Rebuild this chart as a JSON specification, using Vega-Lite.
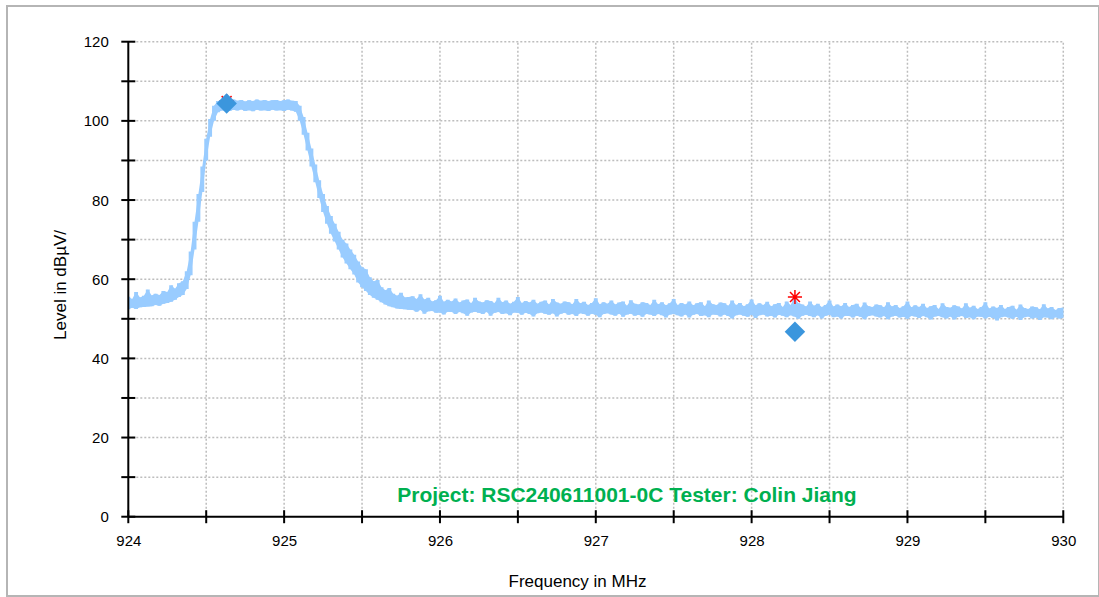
{
  "$schema": "https://vega.github.io/schema/vega-lite/v6.json",
  "width": 1092,
  "height": 590,
  "autosize": {"type": "none"},
  "padding": {"left": 7, "top": 6, "right": 0, "bottom": 1},
  "background": "white",
  "config": {
    "view": {"stroke": "#B5B5B5", "strokeWidth": 2},
    "font": "Liberation Sans"
  },
  "datasets": {
    "trace": [
      {"f":924.000,"lo":52.4,"hi":55.6},{"f":924.025,"lo":52.8,"hi":55.0},{"f":924.050,"lo":52.5,"hi":56.8},{"f":924.075,"lo":52.9,"hi":55.4},
      {"f":924.100,"lo":53.0,"hi":55.8},{"f":924.125,"lo":53.1,"hi":57.4},{"f":924.150,"lo":53.2,"hi":55.9},{"f":924.175,"lo":53.5,"hi":56.3},
      {"f":924.200,"lo":53.3,"hi":56.0},{"f":924.225,"lo":53.8,"hi":57.0},{"f":924.250,"lo":54.0,"hi":56.8},{"f":924.275,"lo":54.3,"hi":58.5},
      {"f":924.300,"lo":54.8,"hi":57.6},{"f":924.325,"lo":55.5,"hi":59.0},{"f":924.350,"lo":56.0,"hi":59.5},{"f":924.375,"lo":57.5,"hi":62.0},
      {"f":924.400,"lo":61.0,"hi":67.0},{"f":924.425,"lo":67.5,"hi":74.5},{"f":924.450,"lo":74.5,"hi":81.5},{"f":924.475,"lo":82.0,"hi":88.5},
      {"f":924.500,"lo":90.0,"hi":95.5},{"f":924.525,"lo":96.0,"hi":100.5},{"f":924.550,"lo":100.0,"hi":103.8},{"f":924.575,"lo":102.2,"hi":105.0},
      {"f":924.600,"lo":102.6,"hi":105.3},{"f":924.625,"lo":102.7,"hi":105.3},{"f":924.650,"lo":102.5,"hi":105.0},{"f":924.675,"lo":102.8,"hi":105.4},
      {"f":924.700,"lo":102.6,"hi":105.1},{"f":924.725,"lo":102.9,"hi":105.3},{"f":924.750,"lo":102.5,"hi":104.9},{"f":924.775,"lo":102.7,"hi":105.2},
      {"f":924.800,"lo":102.4,"hi":105.0},{"f":924.825,"lo":102.8,"hi":105.4},{"f":924.850,"lo":102.6,"hi":105.1},{"f":924.875,"lo":102.7,"hi":105.3},
      {"f":924.900,"lo":102.5,"hi":105.0},{"f":924.925,"lo":102.8,"hi":105.2},{"f":924.950,"lo":102.6,"hi":105.3},{"f":924.975,"lo":102.7,"hi":105.0},
      {"f":925.000,"lo":102.5,"hi":105.2},{"f":925.025,"lo":102.8,"hi":105.4},{"f":925.050,"lo":102.6,"hi":105.1},{"f":925.075,"lo":102.3,"hi":105.0},
      {"f":925.100,"lo":100.0,"hi":103.8},{"f":925.125,"lo":96.5,"hi":101.0},{"f":925.150,"lo":92.5,"hi":97.0},{"f":925.175,"lo":88.5,"hi":93.0},
      {"f":925.200,"lo":84.5,"hi":89.0},{"f":925.225,"lo":80.5,"hi":85.0},{"f":925.250,"lo":77.0,"hi":81.5},{"f":925.275,"lo":74.0,"hi":78.5},
      {"f":925.300,"lo":71.5,"hi":76.0},{"f":925.325,"lo":69.5,"hi":74.0},{"f":925.350,"lo":67.5,"hi":72.0},{"f":925.375,"lo":65.5,"hi":70.0},
      {"f":925.400,"lo":64.0,"hi":69.0},{"f":925.425,"lo":62.5,"hi":67.5},{"f":925.450,"lo":61.2,"hi":66.2},{"f":925.475,"lo":59.2,"hi":64.5},
      {"f":925.500,"lo":58.0,"hi":63.0},{"f":925.525,"lo":57.0,"hi":62.5},{"f":925.550,"lo":56.0,"hi":60.5},{"f":925.575,"lo":55.3,"hi":59.5},
      {"f":925.600,"lo":54.8,"hi":59.8},{"f":925.625,"lo":54.2,"hi":58.0},{"f":925.650,"lo":53.6,"hi":57.2},{"f":925.675,"lo":53.2,"hi":57.8},
      {"f":925.700,"lo":52.9,"hi":56.3},{"f":925.725,"lo":52.6,"hi":55.8},{"f":925.750,"lo":52.5,"hi":56.6},{"f":925.775,"lo":52.4,"hi":55.4},
      {"f":925.800,"lo":52.3,"hi":55.5},{"f":925.825,"lo":52.2,"hi":55.7},{"f":925.850,"lo":51.8,"hi":55.0},{"f":925.875,"lo":52.2,"hi":56.2},
      {"f":925.900,"lo":51.3,"hi":54.9},{"f":925.925,"lo":51.9,"hi":55.3},{"f":925.950,"lo":52.0,"hi":54.4},{"f":925.975,"lo":51.5,"hi":54.7},
      {"f":926.000,"lo":51.6,"hi":55.8},{"f":926.025,"lo":51.1,"hi":54.3},{"f":926.050,"lo":51.8,"hi":54.8},{"f":926.075,"lo":51.7,"hi":54.4},
      {"f":926.100,"lo":51.2,"hi":55.1},{"f":926.125,"lo":51.7,"hi":54.1},{"f":926.150,"lo":51.4,"hi":54.6},{"f":926.175,"lo":50.8,"hi":54.9},
      {"f":926.200,"lo":51.6,"hi":53.9},{"f":926.225,"lo":51.8,"hi":55.3},{"f":926.250,"lo":51.5,"hi":54.4},{"f":926.275,"lo":51.2,"hi":54.1},
      {"f":926.300,"lo":51.7,"hi":54.7},{"f":926.325,"lo":50.8,"hi":54.5},{"f":926.350,"lo":51.5,"hi":54.0},{"f":926.375,"lo":51.7,"hi":55.3},
      {"f":926.400,"lo":51.2,"hi":54.2},{"f":926.425,"lo":51.4,"hi":54.6},{"f":926.450,"lo":50.9,"hi":53.8},{"f":926.475,"lo":51.6,"hi":54.3},
      {"f":926.500,"lo":51.5,"hi":55.5},{"f":926.525,"lo":51.0,"hi":54.0},{"f":926.550,"lo":51.5,"hi":54.5},{"f":926.575,"lo":51.2,"hi":54.1},
      {"f":926.600,"lo":50.6,"hi":54.8},{"f":926.625,"lo":51.4,"hi":53.8},{"f":926.650,"lo":51.6,"hi":54.3},{"f":926.675,"lo":51.3,"hi":54.6},
      {"f":926.700,"lo":51.0,"hi":53.6},{"f":926.725,"lo":51.4,"hi":55.0},{"f":926.750,"lo":50.6,"hi":54.1},{"f":926.775,"lo":51.3,"hi":53.8},
      {"f":926.800,"lo":51.5,"hi":54.4},{"f":926.825,"lo":51.0,"hi":54.2},{"f":926.850,"lo":51.2,"hi":53.7},{"f":926.875,"lo":50.7,"hi":55.0},
      {"f":926.900,"lo":51.4,"hi":53.9},{"f":926.925,"lo":51.2,"hi":54.3},{"f":926.950,"lo":50.8,"hi":53.5},{"f":926.975,"lo":51.3,"hi":54.0},
      {"f":927.000,"lo":51.0,"hi":55.2},{"f":927.025,"lo":50.4,"hi":53.7},{"f":927.050,"lo":51.2,"hi":54.2},{"f":927.075,"lo":51.4,"hi":53.8},
      {"f":927.100,"lo":51.1,"hi":54.6},{"f":927.125,"lo":50.8,"hi":53.6},{"f":927.150,"lo":51.3,"hi":54.1},{"f":927.175,"lo":50.5,"hi":54.4},
      {"f":927.200,"lo":51.1,"hi":53.3},{"f":927.225,"lo":51.3,"hi":54.7},{"f":927.250,"lo":50.8,"hi":53.8},{"f":927.275,"lo":51.0,"hi":53.6},
      {"f":927.300,"lo":50.5,"hi":54.2},{"f":927.325,"lo":51.2,"hi":54.0},{"f":927.350,"lo":51.1,"hi":53.5},{"f":927.375,"lo":50.7,"hi":54.8},
      {"f":927.400,"lo":51.2,"hi":53.7},{"f":927.425,"lo":50.9,"hi":54.2},{"f":927.450,"lo":50.3,"hi":53.4},{"f":927.475,"lo":51.1,"hi":53.9},
      {"f":927.500,"lo":51.2,"hi":55.0},{"f":927.525,"lo":50.9,"hi":53.5},{"f":927.550,"lo":50.6,"hi":54.0},{"f":927.575,"lo":51.1,"hi":53.6},
      {"f":927.600,"lo":50.3,"hi":54.4},{"f":927.625,"lo":51.0,"hi":53.4},{"f":927.650,"lo":51.2,"hi":53.9},{"f":927.675,"lo":50.7,"hi":54.2},
      {"f":927.700,"lo":50.9,"hi":53.2},{"f":927.725,"lo":50.4,"hi":54.6},{"f":927.750,"lo":51.1,"hi":53.7},{"f":927.775,"lo":51.0,"hi":53.5},
      {"f":927.800,"lo":50.6,"hi":54.1},{"f":927.825,"lo":51.1,"hi":53.9},{"f":927.850,"lo":50.7,"hi":53.3},{"f":927.875,"lo":50.1,"hi":54.6},
      {"f":927.900,"lo":50.9,"hi":53.5},{"f":927.925,"lo":51.1,"hi":54.0},{"f":927.950,"lo":50.8,"hi":53.2},{"f":927.975,"lo":50.5,"hi":53.7},
      {"f":928.000,"lo":51.0,"hi":54.9},{"f":928.025,"lo":50.2,"hi":53.4},{"f":928.050,"lo":50.9,"hi":53.9},{"f":928.075,"lo":51.1,"hi":53.5},
      {"f":928.100,"lo":50.6,"hi":54.3},{"f":928.125,"lo":50.8,"hi":53.2},{"f":928.150,"lo":50.3,"hi":53.7},{"f":928.175,"lo":51.0,"hi":54.0},
      {"f":928.200,"lo":50.8,"hi":53.0},{"f":928.225,"lo":50.4,"hi":54.4},{"f":928.250,"lo":50.9,"hi":53.5},{"f":928.275,"lo":50.6,"hi":55.3},
      {"f":928.300,"lo":50.0,"hi":53.9},{"f":928.325,"lo":50.8,"hi":53.6},{"f":928.350,"lo":51.0,"hi":53.1},{"f":928.375,"lo":50.7,"hi":54.4},
      {"f":928.400,"lo":50.4,"hi":53.3},{"f":928.425,"lo":50.9,"hi":53.8},{"f":928.450,"lo":50.1,"hi":53.0},{"f":928.475,"lo":50.8,"hi":53.5},
      {"f":928.500,"lo":51.0,"hi":54.6},{"f":928.525,"lo":50.4,"hi":53.1},{"f":928.550,"lo":50.6,"hi":53.6},{"f":928.575,"lo":50.1,"hi":53.2},
      {"f":928.600,"lo":50.8,"hi":54.0},{"f":928.625,"lo":50.7,"hi":53.0},{"f":928.650,"lo":50.3,"hi":53.5},{"f":928.675,"lo":50.8,"hi":53.8},
      {"f":928.700,"lo":50.5,"hi":52.8},{"f":928.725,"lo":49.9,"hi":54.1},{"f":928.750,"lo":50.7,"hi":53.2},{"f":928.775,"lo":50.9,"hi":53.0},
      {"f":928.800,"lo":50.6,"hi":53.6},{"f":928.825,"lo":50.3,"hi":53.4},{"f":928.850,"lo":50.7,"hi":52.9},{"f":928.875,"lo":49.9,"hi":54.2},
      {"f":928.900,"lo":50.6,"hi":53.1},{"f":928.925,"lo":50.8,"hi":53.5},{"f":928.950,"lo":50.3,"hi":52.7},{"f":928.975,"lo":50.5,"hi":53.2},
      {"f":929.000,"lo":50.0,"hi":54.4},{"f":929.025,"lo":50.7,"hi":52.9},{"f":929.050,"lo":50.6,"hi":53.4},{"f":929.075,"lo":50.2,"hi":53.0},
      {"f":929.100,"lo":50.7,"hi":53.8},{"f":929.125,"lo":50.4,"hi":52.7},{"f":929.150,"lo":49.8,"hi":53.2},{"f":929.175,"lo":50.6,"hi":53.5},
      {"f":929.200,"lo":50.7,"hi":52.5},{"f":929.225,"lo":50.4,"hi":53.9},{"f":929.250,"lo":50.1,"hi":53.0},{"f":929.275,"lo":50.6,"hi":52.8},
      {"f":929.300,"lo":49.8,"hi":53.4},{"f":929.325,"lo":50.5,"hi":53.1},{"f":929.350,"lo":50.7,"hi":52.6},{"f":929.375,"lo":50.2,"hi":53.9},
      {"f":929.400,"lo":50.4,"hi":52.8},{"f":929.425,"lo":49.9,"hi":53.3},{"f":929.450,"lo":50.6,"hi":52.5},{"f":929.475,"lo":50.5,"hi":53.0},
      {"f":929.500,"lo":50.1,"hi":54.2},{"f":929.525,"lo":50.5,"hi":52.6},{"f":929.550,"lo":50.2,"hi":53.1},{"f":929.575,"lo":49.6,"hi":52.7},
      {"f":929.600,"lo":50.4,"hi":53.5},{"f":929.625,"lo":50.6,"hi":52.5},{"f":929.650,"lo":50.3,"hi":53.0},{"f":929.675,"lo":50.0,"hi":53.3},
      {"f":929.700,"lo":50.5,"hi":52.3},{"f":929.725,"lo":49.7,"hi":53.6},{"f":929.750,"lo":50.4,"hi":52.7},{"f":929.775,"lo":50.6,"hi":52.5},
      {"f":929.800,"lo":50.1,"hi":53.1},{"f":929.825,"lo":50.3,"hi":52.9},{"f":929.850,"lo":49.7,"hi":52.4},{"f":929.875,"lo":50.4,"hi":53.7},
      {"f":929.900,"lo":50.3,"hi":52.6},{"f":929.925,"lo":49.9,"hi":53.0},{"f":929.950,"lo":50.4,"hi":52.2},{"f":929.975,"lo":50.1,"hi":52.7},
      {"f":930.000,"lo":50.2,"hi":52.8}
    ],
    "gx": [{"f":924.5},{"f":925},{"f":925.5},{"f":926},{"f":926.5},{"f":927},{"f":927.5},{"f":928},{"f":928.5},{"f":929},{"f":929.5},{"f":930}],
    "gy": [{"v":10},{"v":20},{"v":30},{"v":40},{"v":50},{"v":60},{"v":70},{"v":80},{"v":90},{"v":100},{"v":110},{"v":120}],
    "xt": [{"f":924},{"f":924.5},{"f":925},{"f":925.5},{"f":926},{"f":926.5},{"f":927},{"f":927.5},{"f":928},{"f":928.5},{"f":929},{"f":929.5},{"f":930}],
    "yt": [{"v":0},{"v":10},{"v":20},{"v":30},{"v":40},{"v":50},{"v":60},{"v":70},{"v":80},{"v":90},{"v":100},{"v":110},{"v":120}],
    "one": [{"k":1}],
    "ast": [{"f":924.631,"v":105.0},{"f":928.278,"v":55.5}],
    "dia": [{"f":924.631,"v":104.4},{"f":928.278,"v":46.7}],
    "note": [{"f":927.2,"v":3.8,"label":"Project: RSC240611001-0C Tester: Colin Jiang"}]
  },
  "layer": [
    {
      "data": {"name": "gx"},
      "mark": {"type": "rule", "color": "#BDBDBD", "strokeDash": [2, 2], "strokeWidth": 1.5},
      "encoding": {
        "x": {"field": "f", "type": "quantitative"},
        "y": {"datum": 0, "type": "quantitative"},
        "y2": {"datum": 120}
      }
    },
    {
      "data": {"name": "gy"},
      "mark": {"type": "rule", "color": "#BDBDBD", "strokeDash": [2, 2], "strokeWidth": 1.5},
      "encoding": {
        "y": {"field": "v", "type": "quantitative"},
        "x": {"datum": 924, "type": "quantitative"},
        "x2": {"datum": 930}
      }
    },
    {
      "data": {"name": "trace"},
      "mark": {"type": "area", "color": "#99CCFF", "opacity": 1, "interpolate": "linear"},
      "encoding": {
        "x": {
          "field": "f", "type": "quantitative",
          "scale": {"domain": [923.2216, 930.2292], "nice": false, "zero": false},
          "axis": {
            "title": "Frequency in MHz", "values": [924, 925, 926, 927, 928, 929, 930], "format": "d",
            "offset": -79.3, "grid": false, "ticks": true, "tickSize": 0, "domain": false, "labels": true,
            "labelPadding": 17, "labelFontSize": 15, "labelColor": "#000000",
            "titleFontSize": 17, "titleFontWeight": "normal", "titleColor": "#000000",
            "titleX": 570, "titleY": 69.8, "titleAlign": "center", "titleBaseline": "alphabetic"
          }
        },
        "y": {
          "field": "lo", "type": "quantitative",
          "scale": {"domain": [-20.03, 129.02], "nice": false, "zero": false},
          "axis": {
            "title": "Level in dBµV/", "values": [0, 20, 40, 60, 80, 100, 120], "format": "d",
            "offset": -121.3, "grid": false, "ticks": true, "tickSize": 0, "domain": false, "labels": true,
            "labelPadding": 20, "labelFontSize": 15, "labelColor": "#000000",
            "titleFontSize": 17, "titleFontWeight": "normal", "titleColor": "#000000",
            "titleX": -68.3, "titleY": 278.5, "titleAngle": 270, "titleAlign": "center", "titleBaseline": "middle"
          }
        },
        "y2": {"field": "hi"}
      }
    },
    {
      "data": {"name": "trace"},
      "mark": {"type": "area", "color": "#99CCFF", "opacity": 1, "interpolate": "step"},
      "encoding": {
        "x": {"field": "f", "type": "quantitative"},
        "y": {"field": "lo", "type": "quantitative"},
        "y2": {"field": "hi"}
      }
    },
    {
      "data": {"name": "one"},
      "mark": {"type": "rule", "color": "#000000", "strokeWidth": 2},
      "encoding": {
        "x": {"datum": 924, "type": "quantitative"},
        "x2": {"datum": 930},
        "y": {"datum": 0, "type": "quantitative"}
      }
    },
    {
      "data": {"name": "one"},
      "mark": {"type": "rule", "color": "#000000", "strokeWidth": 2},
      "encoding": {
        "x": {"datum": 924, "type": "quantitative"},
        "y": {"datum": 0, "type": "quantitative"},
        "y2": {"datum": 120}
      }
    },
    {
      "data": {"name": "xt"},
      "mark": {"type": "tick", "orient": "vertical", "size": 13, "thickness": 2, "color": "#000000", "opacity": 1},
      "encoding": {
        "x": {"field": "f", "type": "quantitative"},
        "y": {"datum": 0, "type": "quantitative"}
      }
    },
    {
      "data": {"name": "yt"},
      "mark": {"type": "tick", "orient": "horizontal", "size": 14, "thickness": 2, "color": "#000000", "opacity": 1},
      "encoding": {
        "y": {"field": "v", "type": "quantitative"},
        "x": {"datum": 924, "type": "quantitative"}
      }
    },
    {
      "data": {"name": "ast"},
      "mark": {"type": "point", "shape": "M-1,0L1,0M0,-1L0,1M-0.7,-0.7L0.7,0.7M-0.7,0.7L0.7,-0.7", "filled": false, "size": 200, "stroke": "#FF0000", "strokeWidth": 1.5, "opacity": 1},
      "encoding": {
        "x": {"field": "f", "type": "quantitative"},
        "y": {"field": "v", "type": "quantitative"}
      }
    },
    {
      "data": {"name": "dia"},
      "mark": {"type": "point", "shape": "diamond", "filled": true, "size": 420, "color": "#3B96DD", "opacity": 1},
      "encoding": {
        "x": {"field": "f", "type": "quantitative"},
        "y": {"field": "v", "type": "quantitative"}
      }
    },
    {
      "data": {"name": "note"},
      "mark": {"type": "text", "font": "Liberation Sans", "fontSize": 21, "fontWeight": "bold", "color": "#00B050", "align": "center", "baseline": "alphabetic"},
      "encoding": {
        "x": {"field": "f", "type": "quantitative"},
        "y": {"field": "v", "type": "quantitative"},
        "text": {"field": "label"}
      }
    }
  ]
}
